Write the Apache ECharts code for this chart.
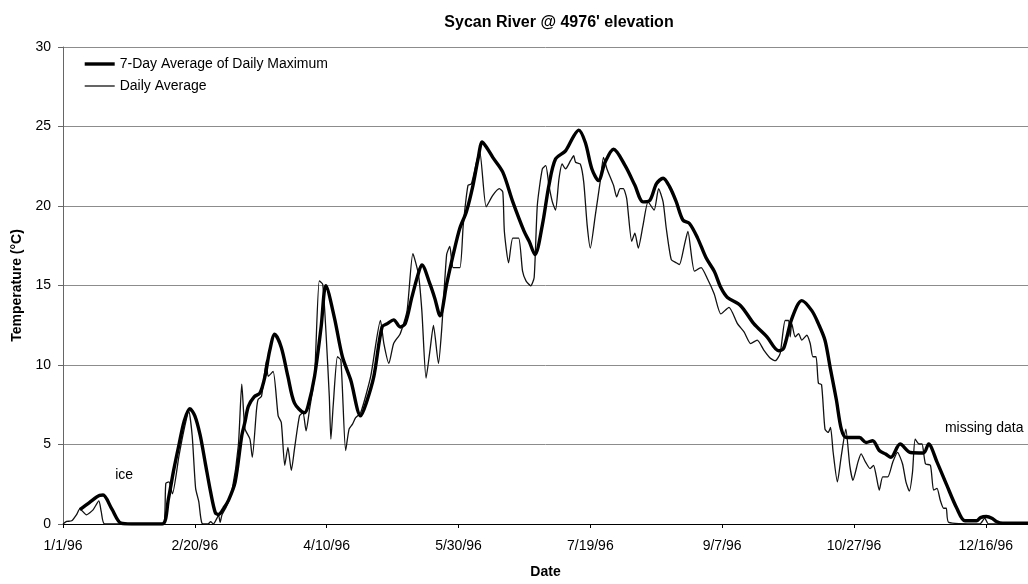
<!DOCTYPE html>
<html>
<head>
<meta charset="utf-8">
<script src="https://cdn.jsdelivr.net/npm/echarts@6/dist/echarts.min.js"></script>
<style>
  html, body { margin: 0; padding: 0; background: #fff; }
  #chart { width: 1028px; height: 584px; }
</style>
</head>
<body>
<div id="chart"></div>
<script>
// days counted from 1/1/96, temperatures in °C
const xTicks = [0, 50, 100, 150, 200, 250, 300, 350];
const yTicks = [0, 5, 10, 15, 20, 25, 30];

const max7Day = [
  [6.4,0.9],[10,1.35],[13.9,1.8],[15.2,1.82],[18.5,0.95],[22,0.05],[26,0],[30,0],[37.7,0],
  [40,1.6],[42,3.4],[44,5.0],[46,6.5],[48.1,7.25],[50,6.8],[52,5.6],[54,3.8],[56,2.0],
  [57.8,0.7],[59,0.6],[61,1.0],[62.8,1.5],[65.3,2.65],[67.8,5.55],[69,6.4],[70.3,7.4],
  [72.5,8.0],[74.7,8.24],[76.6,9.28],[78.4,10.9],[80.3,11.93],[82.8,11.1],[85.3,9.28],
  [87.8,7.6],[91.6,7.0],[92.9,7.4],[95.4,9.28],[97.9,12.4],[99.7,14.98],[102.9,13.0],
  [106,10.5],[109.1,9.07],[112.9,6.8],[115,7.6],[117.9,9.28],[121,12.39],[123,12.6],
  [125.4,12.84],[127.9,12.39],[129.8,12.6],[132.3,14.25],[134.5,15.6],[136.1,16.3],
  [139.2,15.08],[141,14.2],[143,13.1],[145.5,15.08],[148,16.94],[150.5,18.6],[153,19.64],
  [155.5,21.3],[157.4,22.95],[159,24.03],[161,23.6],[163,23.06],[166.8,22.13],[170.6,20.26],
  [174.9,18.4],[176.8,17.78],[179,16.94],[181.8,18.8],[184.3,21.3],[186.8,22.95],
  [190.6,23.47],[193.7,24.4],[195.6,24.77],[198.1,23.99],[200.6,22.33],[203.1,21.6],
  [205.6,22.75],[208.8,23.57],[213.2,22.54],[216.9,21.3],[220,20.26],[222.6,20.36],
  [225.1,21.4],[227.6,21.75],[230.1,21.2],[232.6,20.26],[235.1,19.12],[237.6,18.9],
  [240.7,17.98],[243.9,16.74],[247,15.9],[249.5,14.87],[252,14.25],[257,13.73],[262,12.6],
  [267,11.77],[271.4,10.9],[273.3,11.04],[276.4,12.9],[280.2,14.05],[284,13.42],[286.5,12.6],
  [289,11.56],[290.9,9.9],[293.3,7.83],[295.2,5.97],[297.1,5.44],[302.1,5.44],[304.6,5.13],
  [307.1,5.24],[309.6,4.62],[312,4.4],[314,4.2],[317.5,5.03],[321.4,4.5],[326.4,4.47],
  [328.3,5.03],[331.5,3.89],[335.2,2.44],[339,0.99],[342.1,0.2],[346.5,0.2],[348,0.4],
  [350.2,0.47],[352.5,0.35],[354,0.16],[356.4,0.05],[366,0.05]
];

const dailyAvg = [
  [0,0],[1.4,0.16],[3.3,0.2],[5.1,0.58],[6.4,0.95],[8.9,0.58],[11.4,0.89],[13.6,1.45],
  [14.5,0.78],[15.8,0],[38,0],[39,2.55],[40.2,2.65],[41.5,1.9],[44,4.3],[46,6.0],[47.7,7.1],
  [49,5.55],[50.3,2.24],[51.5,1.4],[52.7,0.05],[55,0],[56,0.15],[57,0],[58.4,0.37],[59,0.58],
  [59.6,0.1],[60.3,0.58],[62,1.1],[64,2.0],[66.5,4.93],[67.8,8.8],[69,6.0],[70.9,5.34],
  [71.8,4.2],[73.4,7.2],[74,7.83],[75.3,8.04],[77.2,10.3],[77.8,9.28],[79.7,9.59],[81.6,6.8],
  [82.8,6.38],[84.1,3.69],[85.3,4.82],[86.6,3.37],[87.8,4.72],[89.7,6.8],[91,7.0],[92.2,5.86],
  [93.5,7.2],[95.4,9.28],[97.2,15.29],[98.5,15.08],[99.7,12.18],[101,8.04],[101.6,5.34],
  [102.5,7.5],[104.1,10.52],[105.4,10.3],[107.2,4.62],[108.5,5.97],[109.8,6.28],[111,6.69],
  [112.9,7.0],[116.7,9.28],[120.4,12.8],[121.7,11.35],[123.6,10.1],[125.4,11.35],
  [127.9,11.97],[130.5,13.42],[132.7,17.0],[134.8,15.7],[136.1,13.42],[137.7,9.17],
  [139.2,10.94],[140.5,12.49],[142.4,10.1],[143.6,12.18],[145.5,16.94],[146.7,17.46],
  [148,16.12],[150.5,16.12],[151.8,18.8],[153.6,21.3],[154.9,21.4],[158,23.47],[160.5,19.95],
  [163,20.67],[165.5,21.09],[166.8,20.88],[167.4,18.4],[169,16.43],[170.6,17.98],
  [172.8,17.98],[174.3,15.9],[175.6,15.29],[177.4,14.98],[178.7,15.5],[179.9,20.05],
  [181.8,22.33],[183.1,22.54],[184.3,21.3],[185.6,20.26],[186.8,19.74],[188.1,21.7],
  [189.3,22.64],[190.6,22.33],[192.5,22.85],[193.7,23.16],[194.4,22.75],[196.2,22.64],
  [197.5,21.5],[198.8,18.8],[200,17.36],[201.9,19.43],[203.8,21.6],[205,23.06],[206.3,22.33],
  [208.8,21.3],[210,20.57],[211.3,21.09],[212.5,21.09],[213.8,20.47],[215.7,17.78],
  [216.9,18.29],[218.2,17.36],[220,18.8],[221.9,20.26],[224.2,19.74],[225.9,21.09],
  [227.6,20.26],[228.8,18.6],[230.7,16.63],[232.6,16.43],[233.8,16.32],[235.7,17.56],
  [237,18.4],[239.5,15.9],[242,16.12],[244.5,15.39],[247,14.46],[249.5,13.21],[252.6,13.63],
  [255.8,12.6],[258.3,12.08],[260.8,11.35],[263.3,11.56],[265.8,10.94],[268.3,10.42],
  [270.2,10.27],[272,10.73],[273.9,12.8],[275.2,12.8],[275.8,11.77],[276.4,12.6],
  [277.7,11.77],[279,11.97],[280.2,11.56],[282.1,11.87],[283.4,11.35],[284.4,10.52],
  [285.6,10.52],[286.5,8.86],[287.7,8.76],[289,5.97],[290.2,5.76],[291.1,6.07],[292.1,4.51],
  [293.7,2.65],[295.2,4.3],[296.9,5.97],[298.4,3.69],[299.6,2.75],[301.5,3.89],[302.7,4.41],
  [304.4,3.89],[306.1,3.48],[307.4,3.69],[308.4,3.06],[309.6,2.13],[310.9,2.96],[312.8,2.96],
  [314.7,3.89],[316.5,4.51],[318.4,3.79],[319.7,2.65],[321,2.07],[322.2,3.27],[323.2,5.34],
  [324.7,5.03],[325.8,5.03],[327.1,3.79],[329,3.69],[330.2,2.13],[331.5,2.24],[332.7,1.51],
  [334,0.99],[335,0.99],[335.9,0.1],[347.7,0],[349.6,0.37],[351,0],[366,0]
];

// text notes on the plot: [day, temp, text]
const notes = [[19.8, 3.05, 'ice'], [334.5, 6.05, 'missing data']];

const FONT = '"Liberation Sans", Arial, sans-serif';

function dayLabel(v) {
  const d = new Date(Date.UTC(1996, 0, 1) + v * 86400000);
  return (d.getUTCMonth() + 1) + '/' + d.getUTCDate() + '/' + String(d.getUTCFullYear()).slice(2);
}

const chart = echarts.init(document.getElementById('chart'));

const option = {
  backgroundColor: '#fff',
  animation: false,
  textStyle: { fontFamily: FONT, color: '#000' },
  title: {
    text: "Sycan River @ 4976' elevation",
    left: 554,
    textAlign: 'center',
    top: 10,
    textStyle: { fontFamily: FONT, fontSize: 16, fontWeight: 'bold', color: '#000' }
  },
  legend: {
    orient: 'vertical',
    left: 83,
    top: 57,
    itemWidth: 30,
    itemHeight: 12,
    itemGap: 8,
    padding: 0,
    itemStyle: { opacity: 0, borderWidth: 0 },
    textStyle: { fontFamily: FONT, fontSize: 14, color: '#000' },
    data: [
      { name: '7-Day Average of Daily Maximum', lineStyle: { width: 3.4, color: '#000' } },
      { name: 'Daily Average', lineStyle: { width: 1.3, color: '#111' } }
    ]
  },
  grid: { left: 63, top: 47, width: 973.6, height: 482.3 },
  xAxis: {
    type: 'value',
    min: 0,
    max: 366,
    interval: 50,
    name: 'Date',
    nameLocation: 'middle',
    nameGap: 41,
    nameTextStyle: { fontFamily: FONT, fontSize: 14, fontWeight: 'bold', color: '#000' },
    axisLine: { lineStyle: { color: '#000', width: 1.2 } },
    axisTick: { show: true, length: 4, lineStyle: { color: '#000' } },
    axisLabel: {
      margin: 15,
      fontFamily: FONT, fontSize: 14, color: '#000',
      showMaxLabel: false,
      formatter: v => xTicks.includes(v) ? dayLabel(v) : ''
    },
    splitLine: { show: false }
  },
  yAxis: {
    type: 'value',
    min: yTicks[0],
    max: yTicks[yTicks.length - 1],
    interval: 5,
    name: 'Temperature (°C)',
    nameLocation: 'middle',
    nameGap: 38,
    nameTextStyle: { fontFamily: FONT, fontSize: 14, fontWeight: 'bold', color: '#000' },
    axisLine: { show: true, lineStyle: { color: '#666', width: 1 } },
    axisTick: { show: true, length: 5, lineStyle: { color: '#666' } },
    axisLabel: { margin: 12, fontFamily: FONT, fontSize: 14, color: '#000' },
    splitLine: { lineStyle: { color: '#8c8c8c', width: 1 } }
  },
  series: [
    {
      name: '7-Day Average of Daily Maximum',
      type: 'line',
      data: max7Day,
      showSymbol: false,
      symbol: 'none',
      smooth: 0.3,
      lineStyle: { color: '#000', width: 3.4 },
      itemStyle: { color: '#000' },
      z: 3
    },
    {
      name: 'Daily Average',
      type: 'line',
      data: dailyAvg,
      showSymbol: false,
      symbol: 'none',
      smooth: 0.2,
      lineStyle: { color: '#111', width: 1.3 },
      itemStyle: { color: '#111' },
      z: 2
    }
  ]
};

chart.setOption(option);

// place the notes through the chart's own scales
chart.setOption({
  graphic: notes.map(n => {
    const p = chart.convertToPixel({ gridIndex: 0 }, [n[0], n[1]]);
    return {
      type: 'text',
      x: p[0],
      y: p[1],
      silent: true,
      style: {
        text: n[2],
        font: '14px ' + FONT,
        fill: '#000',
        textAlign: 'left',
        textVerticalAlign: 'middle'
      }
    };
  })
});
</script>
</body>
</html>
